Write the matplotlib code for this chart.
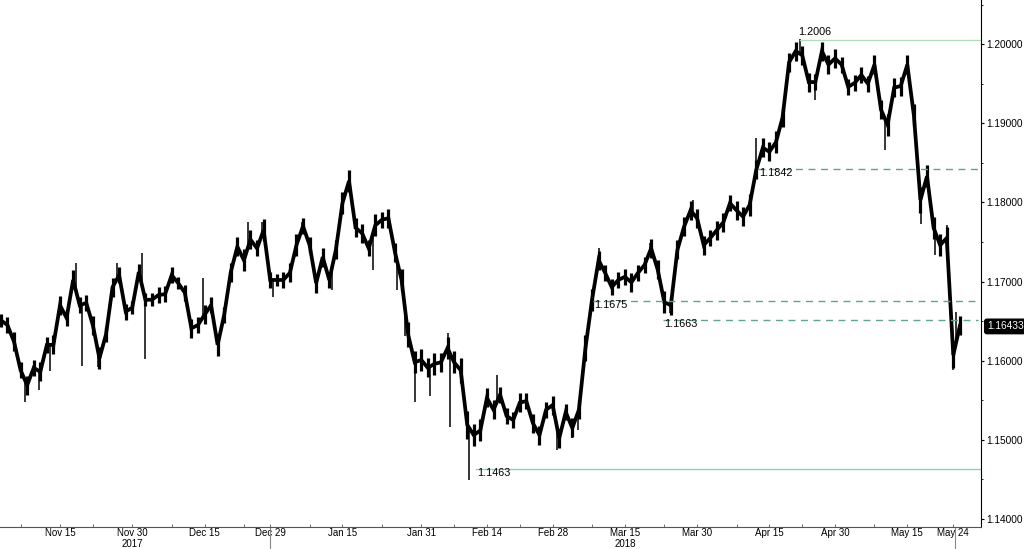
import matplotlib
matplotlib.use("Agg")
import matplotlib.pyplot as plt
import matplotlib.transforms as mtransforms
import numpy as np

plt.rcParams['font.family'] = ['Liberation Sans', 'DejaVu Sans']

# daily closes, one per business day starting 2017-11-02
start = '2017-11-02'
close = [
    1.1651, 1.1645, 1.1624, 1.1588, 1.1569, 1.1591, 1.1586, 1.1620, 1.1620,
    1.1670, 1.1654, 1.1702, 1.1670, 1.1673, 1.1645, 1.1603, 1.1633, 1.1693, 1.1708,
    1.1662, 1.1667, 1.1712, 1.1677, 1.1677, 1.1683, 1.1684, 1.1708, 1.1698, 1.1686,
    1.1641, 1.1645, 1.1658, 1.1670, 1.1620, 1.1658, 1.1712, 1.1744, 1.1727, 1.1753,
    1.1742, 1.1765, 1.1702, 1.1702, 1.1702, 1.1711, 1.1746, 1.1770, 1.1746, 1.1698,
    1.1731, 1.1702, 1.1740, 1.1799, 1.1827, 1.1768, 1.1761, 1.1742, 1.1771, 1.1778,
    1.1780, 1.1737, 1.1702, 1.1633, 1.1598, 1.1601, 1.1591, 1.1596, 1.1598, 1.1616,
    1.1598, 1.1588, 1.1519, 1.1506, 1.1512, 1.1553, 1.1538, 1.1557, 1.1530, 1.1525,
    1.1547, 1.1549, 1.1521, 1.1506, 1.1538, 1.1544, 1.1502, 1.1535, 1.1515, 1.1538,
    1.1616, 1.1677, 1.1727, 1.1711, 1.1693, 1.1702, 1.1706, 1.1699, 1.1711, 1.1721,
    1.1742, 1.1715, 1.1674, 1.1670, 1.1740, 1.1769, 1.1790, 1.1780, 1.1746, 1.1755,
    1.1765, 1.1775, 1.1799, 1.1790, 1.1782, 1.1797, 1.1841, 1.1869, 1.1864, 1.1876,
    1.1907, 1.1977, 1.1991, 1.1986, 1.1952, 1.1952, 1.1991, 1.1974, 1.1982, 1.1974,
    1.1946, 1.1951, 1.1961, 1.1950, 1.1974, 1.1917, 1.1898, 1.1945, 1.1947, 1.1974,
    1.1910, 1.1803, 1.1833, 1.1768, 1.1746, 1.1755, 1.1607, 1.1644,
]

# half of each day's trading range, in pips
half_range = [
    8, 10, 12, 10, 12, 10, 12, 10, 12,
    12, 10, 12, 10, 10, 12, 14, 10, 12, 10,
    10, 8, 10, 8, 8, 10, 10, 10, 8, 10,
    12, 10, 12, 10, 14, 10, 12, 12, 14, 12,
    10, 14, 10, 8, 10, 12, 14, 10, 10, 12,
    12, 10, 12, 14, 14, 12, 12, 10, 14, 10,
    12, 12, 14, 16, 14, 14, 12, 14, 12, 14,
    14, 16, 18, 14, 14, 12, 12, 10, 10, 10,
    12, 10, 12, 12, 10, 12, 12, 10, 12, 12,
    16, 14, 12, 10, 10, 10, 10, 12, 10, 10,
    12, 12, 14, 12, 12, 12, 12, 12, 12, 10,
    12, 12, 10, 12, 12, 14, 12, 12, 12, 14,
    12, 12, 12, 12, 12, 10, 12, 12, 12, 10,
    10, 10, 10, 10, 12, 12, 14, 12, 12, 12,
    14, 16, 14, 14, 14, 14, 16, 12,
]

# intraday extremes (business-day position, price)
spike_t = [3.67, 5.8, 7.5, 11.4, 12.35, 14.8, 17.7, 21.5, 21.9, 30.8, 33.0, 36.0,
           37.6, 39.8, 41.4, 45.8, 48.1, 50.4, 53.2, 56.7, 60.3, 61.5, 63.0, 65.3,
           68.1, 68.4, 71.3, 73.7, 75.5, 84.7, 87.0, 87.9, 91.1, 98.8, 101.9, 105.4,
           107.2, 115.0, 121.7, 124.0, 133.0, 134.6, 138.0, 140.1, 142.2, 144.0,
           145.0, 145.4]
spike_p = [1.1548, 1.1563, 1.1587, 1.1723, 1.1593, 1.1592, 1.1723, 1.1736, 1.1602,
           1.1705, 1.1617, 1.1749, 1.1775, 1.1775, 1.1680, 1.1775, 1.1689, 1.1689,
           1.1833, 1.1715, 1.1689, 1.1631, 1.1548, 1.1555, 1.1635, 1.1516, 1.1449,
           1.1548, 1.1582, 1.1487, 1.1502, 1.1512, 1.1742, 1.1749, 1.1660, 1.1803,
           1.1740, 1.1881, 1.2006, 1.1929, 1.1978, 1.1866, 1.1980, 1.1773, 1.1734,
           1.1772, 1.1588, 1.1661]

# support / resistance levels: (price on axis, label, start position, style)
level_p = [1.2005, 1.1842, 1.1675, 1.1651, 1.1463]
level_lab = ['1.2006', '1.1842', '1.1675', '1.1663', '1.1463']
level_t0 = [121.7, 115.3, 90.2, 100.8, 72.3]
level_dash = [False, True, True, True, False]

last_price = 1.16433

tick_dates = ['2017-11-15', '2017-11-30', '2017-12-15', '2017-12-29', '2018-01-15',
              '2018-01-31', '2018-02-14', '2018-02-28', '2018-03-15', '2018-03-30',
              '2018-04-15', '2018-04-30', '2018-05-15', '2018-05-24']
tick_labels = ['Nov 15', 'Nov 30', 'Dec 15', 'Dec 29', 'Jan 15', 'Jan 31', 'Feb 14',
               'Feb 28', 'Mar 15', 'Mar 30', 'Apr 15', 'Apr 30', 'May 15', 'May 24']
minor_dates = ['2017-11-07', '2017-11-22', '2017-12-08', '2017-12-25', '2018-01-08',
               '2018-01-23', '2018-02-07', '2018-02-21', '2018-03-08', '2018-03-23',
               '2018-04-09', '2018-04-23', '2018-05-08']
year_dates = ['2017-11-30', '2018-03-15']
year_labels = ['2017', '2018']


def bday(d):
    return np.busday_count(start, d)


t = np.arange(len(close))
close = np.array(close)
hr = np.array(half_range) * 1e-4

fig = plt.figure(figsize=(10.24, 5.49), dpi=100)
ax = fig.add_axes([0, 22 / 549, 981 / 1024, 527 / 549])

ax.plot(t, close, color='black', lw=2.7, solid_joinstyle='miter')
ax.vlines(t, close - hr, close + hr, color='black', lw=2.3)
base = np.interp(spike_t, t, close)
ax.vlines(spike_t, base, spike_p, color='black', lw=1.1)

for p, lab, t0, dash in zip(level_p, level_lab, level_t0, level_dash):
    if dash:
        ax.plot([t0, 148.8], [p, p], color='#5ea593', lw=1.0, ls=(0, (5, 4)))
    else:
        col = '#b3dcb8' if p > 1.19 else '#8fcfc6'
        ax.plot([t0, 149.22], [p, p], color=col, lw=1.0)
    if lab == '1.2006':
        ax.text(t0 - 0.3, p + 0.0004, lab, fontsize=7.8, ha='left', va='bottom')
    else:
        ax.text(t0 + 0.2, p + 0.0002, lab, fontsize=7.8, ha='left', va='top')

ax.set_xlim(-0.135, 149.22)
ax.set_ylim(1.13899, 1.20557)

for s in ['top', 'left']:
    ax.spines[s].set_visible(False)
ax.spines['right'].set_color('black')
ax.spines['bottom'].set_color('#555555')

ax.yaxis.tick_right()
ax.set_yticks(np.arange(1.14, 1.2001, 0.01))
ax.set_yticks(np.arange(1.145, 1.2051, 0.01), minor=True)
ax.yaxis.set_major_formatter(matplotlib.ticker.FormatStrFormatter('%.5f'))
ax.tick_params(axis='y', which='major', direction='out', length=2.5, pad=1.5,
               labelsize=7.3, width=0.8)
ax.tick_params(axis='y', which='minor', direction='out', length=1.5, width=0.6)

ax.set_xticks([bday(d) for d in tick_dates])
ax.set_xticklabels(tick_labels)
ax.set_xticks([bday(d) for d in minor_dates], minor=True)
ax.tick_params(axis='x', which='major', direction='in', length=2, pad=0.5,
               labelsize=7.0, width=0.6, color='#555555')
ax.tick_params(axis='x', which='minor', direction='in', length=2, width=0.6,
               color='#555555')

trans = mtransforms.blended_transform_factory(ax.transData, ax.transAxes)
for d, lab in zip(year_dates, year_labels):
    ax.text(bday(d), -0.0415, lab, transform=trans, fontsize=7.0, ha='center',
            va='bottom')
ax.vlines([bday('2017-12-29'), bday('2018-05-24') + 0.3], -0.05, 0, transform=trans,
          color='#888888', lw=0.8, clip_on=False)

ax.text(1.006, last_price, '%.5f' % last_price, transform=mtransforms.blended_transform_factory(
    ax.transAxes, ax.transData), color='white', fontsize=7.3, ha='left', va='center',
    bbox=dict(boxstyle='round,pad=0.22', fc='black', ec='black'))

fig.savefig('out.png', dpi=100)
